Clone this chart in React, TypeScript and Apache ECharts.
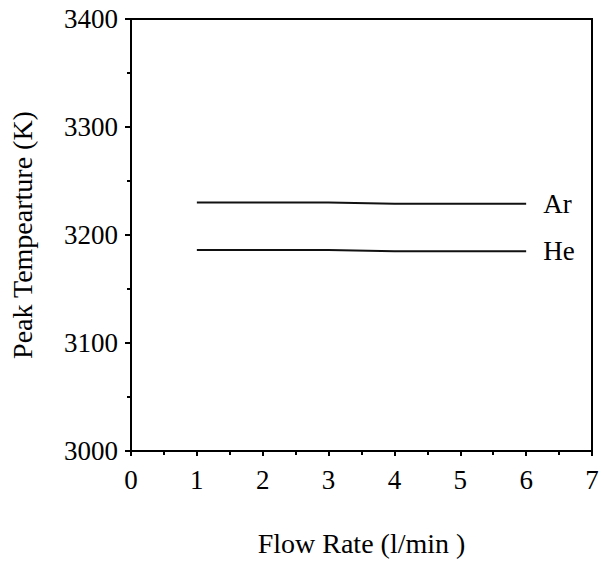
import React, { useEffect, useRef } from "react";
import * as echarts from "echarts";

const flowRates = [1, 2, 3, 4, 5, 6];
const arTemps = [3230, 3230, 3230, 3229, 3229, 3229];
const heTemps = [3186, 3186, 3186, 3185, 3185, 3185];
const seriesNames = ["Ar", "He"];
const xAxisTitle = "Flow Rate (l/min )";
const yAxisTitle = "Peak Tempearture (K)";

const FONT = "'Liberation Serif', 'Times New Roman', serif";

export default function App() {
  const ref = useRef<HTMLDivElement>(null);
  useEffect(() => {
    if (!ref.current) return;
    const chart = echarts.init(ref.current, null, { renderer: "svg" });
    const mk = (name: string, vals: number[]) => ({
      name,
      type: "line",
      data: flowRates.map((x, i) => [x, vals[i]]),
      showSymbol: false,
      symbol: "none",
      lineStyle: { color: "#111", width: 2 },
      endLabel: {
        show: true,
        formatter: "{a}",
        distance: 17,
        color: "#000",
        fontFamily: FONT,
        fontSize: 27,
      },
    });
    chart.setOption({
      animation: false,
      backgroundColor: "#fff",
      grid: {
        left: 130,
        right: 12,
        top: 19,
        bottom: 110,
        show: true,
        borderColor: "#000",
        borderWidth: 2,
      },
      xAxis: {
        type: "value",
        min: 0,
        max: 7,
        interval: 1,
        name: xAxisTitle,
        nameLocation: "middle",
        nameGap: 78,
        nameTextStyle: { fontFamily: FONT, fontSize: 28, color: "#000" },
        axisLine: { show: true, onZero: false, lineStyle: { color: "#000", width: 2 } },
        axisTick: { show: true, inside: false, length: 5, lineStyle: { color: "#000", width: 2 } },
        minorTick: { show: true, splitNumber: 2, length: 4, lineStyle: { color: "#000", width: 2 } },
        axisLabel: { fontFamily: FONT, fontSize: 27, color: "#000", margin: 15, formatter: (v: number) => String(v) },
        splitLine: { show: false },
      },
      yAxis: {
        type: "value",
        min: 3000,
        max: 3400,
        interval: 100,
        name: yAxisTitle,
        nameLocation: "middle",
        nameGap: 95,
        nameRotate: 90,
        nameTextStyle: { fontFamily: FONT, fontSize: 28, color: "#000" },
        axisLine: { show: true, lineStyle: { color: "#000", width: 2 } },
        axisTick: { show: true, inside: false, length: 6, lineStyle: { color: "#000", width: 2 } },
        minorTick: { show: true, splitNumber: 2, length: 4, lineStyle: { color: "#000", width: 2 } },
        axisLabel: { fontFamily: FONT, fontSize: 27, color: "#000", margin: 13, formatter: (v: number) => String(v) },
        splitLine: { show: false },
      },
      series: [mk(seriesNames[0], arTemps), mk(seriesNames[1], heTemps)],
    });
    return () => chart.dispose();
  }, []);
  return (
    <div
      ref={ref}
      style={{ position: "absolute", left: 0, top: 0, width: 604, height: 562 }}
    />
  );
}
